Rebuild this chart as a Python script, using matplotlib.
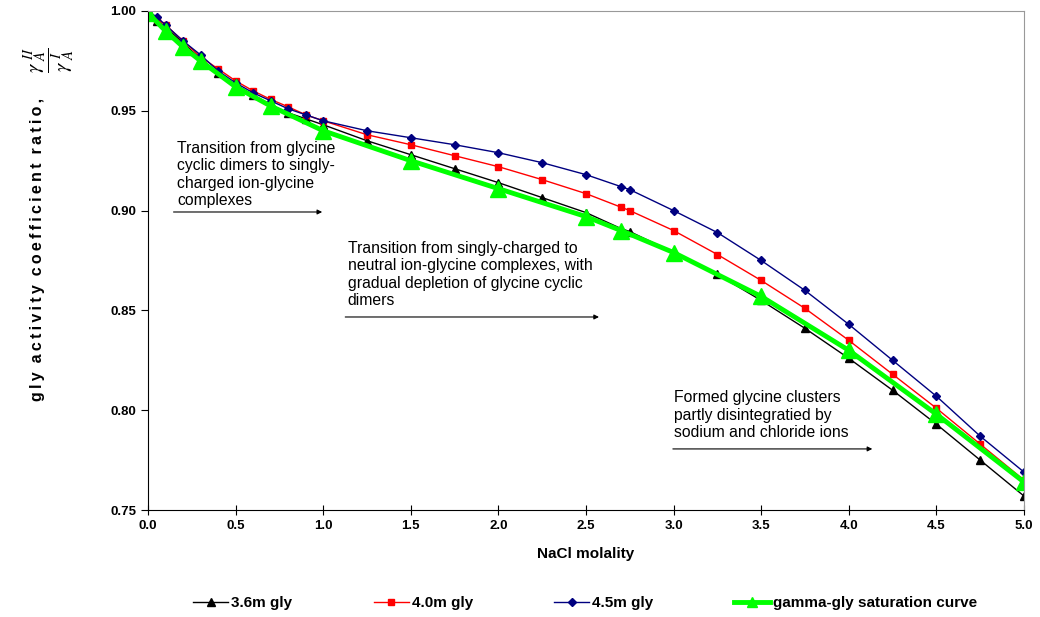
import matplotlib.pyplot as plt

# NaCl molality for the three glycine series
x_gly = [0.0, 0.05, 0.1, 0.2, 0.3, 0.4, 0.5, 0.6, 0.7, 0.8, 0.9, 1.0, 1.25, 1.5, 1.75,
         2.0, 2.25, 2.5, 2.7, 2.75, 3.0, 3.25, 3.5, 3.75, 4.0, 4.25, 4.5, 4.75, 5.0]
gly_36 = [1.000, 0.995, 0.992, 0.984, 0.976, 0.969, 0.963, 0.958, 0.953, 0.949, 0.946, 0.943, 0.935, 0.928, 0.921,
          0.914, 0.9065, 0.899, 0.891, 0.8895, 0.879, 0.868, 0.855, 0.841, 0.826, 0.810, 0.793, 0.775, 0.757]
gly_40 = [1.000, 0.996, 0.993, 0.985, 0.977, 0.971, 0.965, 0.960, 0.9557, 0.952, 0.948, 0.945, 0.938, 0.933, 0.9275,
          0.922, 0.9155, 0.9085, 0.9017, 0.900, 0.890, 0.878, 0.865, 0.851, 0.835, 0.818, 0.801, 0.783, 0.765]
gly_45 = [1.000, 0.997, 0.993, 0.985, 0.978, 0.970, 0.964, 0.959, 0.955, 0.951, 0.948, 0.945, 0.940, 0.9365, 0.933,
          0.929, 0.924, 0.918, 0.912, 0.9105, 0.900, 0.889, 0.875, 0.860, 0.843, 0.825, 0.807, 0.787, 0.769]

# gamma-glycine saturation curve
x_sat = [0.0, 0.1, 0.2, 0.3, 0.5, 0.7, 1.0, 1.5, 2.0, 2.5, 2.7, 3.0, 3.5, 4.0, 4.5, 5.0]
y_sat = [0.999, 0.990, 0.982, 0.975, 0.962, 0.9524, 0.940, 0.925, 0.911, 0.897, 0.890, 0.879, 0.857, 0.830, 0.798, 0.764]

plt.rcParams['font.family'] = ['Liberation Sans', 'DejaVu Sans']
plt.rcParams['mathtext.fontset'] = 'stix'

fig = plt.figure(figsize=(10.4, 6.17), dpi=100)
ax = fig.add_axes([0.1423, 0.1734, 0.8423, 0.8088])

ax.plot(x_gly, gly_36, color='black', lw=1, marker='^', ms=5.5, label='3.6m gly')
ax.plot(x_gly, gly_40, color='#ff0000', lw=1, marker='s', ms=5, label='4.0m gly')
ax.plot(x_gly, gly_45, color='#000080', lw=1, marker='D', ms=4, label='4.5m gly')
ax.plot(x_sat, y_sat, color='#00ff00', lw=3.5, marker='^', ms=11, label='gamma-gly saturation curve')

ax.set_xlim(0, 5)
ax.set_ylim(0.75, 1.0)
ax.set_xticks([0, 0.5, 1, 1.5, 2, 2.5, 3, 3.5, 4, 4.5, 5])
ax.set_yticks([0.75, 0.80, 0.85, 0.90, 0.95, 1.00])
ax.xaxis.set_major_formatter(plt.FormatStrFormatter('%.1f'))
ax.yaxis.set_major_formatter(plt.FormatStrFormatter('%.2f'))
for lab in ax.get_xticklabels() + ax.get_yticklabels():
    lab.set_fontweight('bold')
    lab.set_fontsize(9.5)
ax.tick_params(axis='y', direction='out', length=5)
ax.tick_params(axis='x', direction='inout', length=7)
ax.spines['top'].set_color('#999999')
ax.spines['right'].set_color('#999999')

ax.set_xlabel('NaCl molality', fontsize=11, fontweight='bold', labelpad=11)

# y label: letter-spaced words plus the gamma ratio
words = 'gly activity coefficient ratio,'.split(' ')
spaced = '  '.join('\u2009'.join(w) for w in words)
fig.text(38 / 1040, 1 - 401 / 617, spaced, rotation=90, ha='center', va='bottom',
         fontsize=11.5, fontweight='bold')
fig.text(49 / 1040, 1 - 60 / 617, r'$\dfrac{\gamma^{\ II}_{\ A}}{\gamma^{\ I}_{\ A}}$',
         rotation=90, ha='center', va='center', fontsize=15)

# annotations
note_kw = dict(fontsize=11.3, va='top', linespacing=1.2)
arrow_kw = dict(arrowstyle='-|>', color='black', lw=0.8, mutation_scale=7)
ax.text(0.165, 0.9349, 'Transition from glycine\ncyclic dimers to singly-\ncharged ion-glycine\ncomplexes', **note_kw)
ax.annotate('', xy=(1.01, 0.8993), xytext=(0.13, 0.8993), arrowprops=arrow_kw)
ax.text(1.14, 0.8848, 'Transition from singly-charged to\nneutral ion-glycine complexes, with\ngradual depletion of glycine cyclic\ndimers', **note_kw)
ax.annotate('', xy=(2.59, 0.8467), xytext=(1.11, 0.8467), arrowprops=arrow_kw)
ax.text(3.0, 0.8100, 'Formed glycine clusters\npartly disintegratied by\nsodium and chloride ions', **note_kw)
ax.annotate('', xy=(4.15, 0.7806), xytext=(2.98, 0.7806), arrowprops=arrow_kw)

leg = fig.legend(loc='center', bbox_to_anchor=(0.5625, 0.0227), ncol=4, frameon=False,
                 fontsize=11, handlelength=2.3, columnspacing=5.3, handletextpad=0.2)
for t in leg.get_texts():
    t.set_fontweight('bold')
leg.legend_handles[3].set_markersize(7)

fig.savefig('out.png', dpi=100)
